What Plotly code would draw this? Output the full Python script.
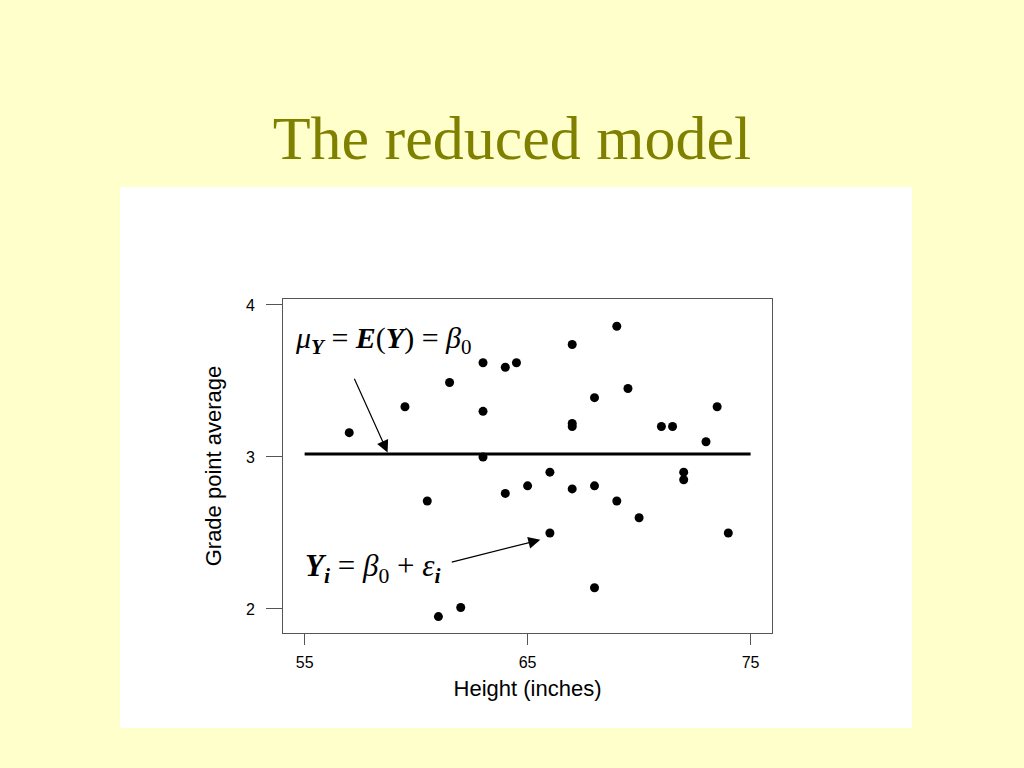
import plotly.graph_objects as go

# ---- data ----
heights = [57, 59.5, 60.5, 61, 61.5, 62, 63, 63, 63, 64, 64, 64.5, 65, 66, 66,
           67, 67, 67, 67, 68, 68, 68, 69, 69, 69.5, 70, 71, 71.5, 72, 72, 73, 73.5, 74]
gpa = [3.16, 3.33, 2.71, 1.95, 3.49, 2.01, 3.62, 3.30, 3.00, 3.59, 2.76, 3.62, 2.81, 2.90, 2.50,
       3.74, 3.22, 3.20, 2.79, 3.39, 2.81, 2.14, 3.86, 2.71, 3.45, 2.60, 3.20, 3.20, 2.90, 2.85,
       3.10, 3.33, 2.50]
line_x = [55, 75]
line_y = [3.02, 3.02]
x_ticks = [55, 65, 75]
y_ticks = [2, 3, 4]

title_text = "The reduced model"
x_title = "Height (inches)"
y_title = "Grade point average"
eq_mean = "<i>μ</i><sub><b><i>Y</i></b></sub> = <b><i>E</i></b>(<b><i>Y</i></b>) = <i>β</i><sub>0</sub>"
eq_obs = "<b><i>Y</i></b><sub><b><i>i</i></b></sub> = <i>β</i><sub>0</sub> + <i>ε</i><sub><b><i>i</i></b></sub>"

# ---- layout geometry ----
W, H = 1024, 768
L, R, T, B = 283, 252, 299, 135
pw, ph = W - L - R, H - T - B

def px_x(px):
    return (px - L) / pw

def px_y(py):
    return (H - B - py) / ph

serif = "Liberation Serif, Times New Roman, serif"
sans = "Liberation Sans, Arial, sans-serif"

fig = go.Figure()
fig.add_trace(go.Scatter(x=line_x, y=line_y, mode="lines",
                         line=dict(color="black", width=3),
                         hoverinfo="skip", showlegend=False))
fig.add_trace(go.Scatter(x=heights, y=gpa, mode="markers",
                         marker=dict(color="black", size=9),
                         showlegend=False))

fig.add_shape(type="rect", xref="paper", yref="paper",
              x0=px_x(120), x1=px_x(912), y0=px_y(728), y1=px_y(187),
              fillcolor="white", line=dict(width=0), layer="below")

axis_common = dict(showline=True, mirror=True, linecolor="#555555", linewidth=1,
                   ticks="outside", tickcolor="#555555", tickwidth=1,
                   showgrid=False, zeroline=False,
                   tickfont=dict(family=sans, size=16, color="black"),
                   automargin=False)

fig.update_xaxes(range=[54.03, 75.96], tickvals=x_ticks, ticklen=11,
                 ticklabelstandoff=4,
                 title=dict(text=x_title, font=dict(family=sans, size=22, color="black"),
                            standoff=10),
                 **axis_common)
fig.update_yaxes(range=[1.842, 4.039], tickvals=y_ticks, ticklen=16,
                 ticklabelstandoff=8,
                 title=dict(text=y_title, font=dict(family=sans, size=22, color="black"),
                            standoff=18),
                 **axis_common)

fig.add_annotation(text=eq_mean, x=54.5, y=3.77, xref="x", yref="y",
                   xanchor="left", yanchor="middle", showarrow=False,
                   font=dict(family=serif, size=30, color="black"))
fig.add_annotation(text=eq_obs, x=54.94, y=2.27, xref="x", yref="y",
                   xanchor="left", yanchor="middle", showarrow=False,
                   font=dict(family=serif, size=31, color="black"))

fig.add_annotation(text="", x=58.72, y=3.03, ax=57.2, ay=3.524,
                   xref="x", yref="y", axref="x", ayref="y",
                   showarrow=True, arrowhead=2, arrowsize=2, arrowwidth=1.2,
                   arrowcolor="black")
fig.add_annotation(text="", x=65.57, y=2.455, ax=61.53, ay=2.306,
                   xref="x", yref="y", axref="x", ayref="y",
                   showarrow=True, arrowhead=2, arrowsize=2, arrowwidth=1.2,
                   arrowcolor="black")

fig.update_layout(
    width=W, height=H,
    margin=dict(l=L, r=R, t=T, b=B, pad=0),
    paper_bgcolor="#FFFFCC", plot_bgcolor="white",
    title=dict(text=title_text, x=0.5, xref="container", xanchor="center",
               y=1 - 137 / H, yref="container", yanchor="middle",
               font=dict(family=serif, size=62, color="#808000")),
    showlegend=False,
)

fig.write_html("out.html",
               config={"displayModeBar": False},
               post_script="document.body.style.margin='0';document.body.style.overflow='hidden';")
